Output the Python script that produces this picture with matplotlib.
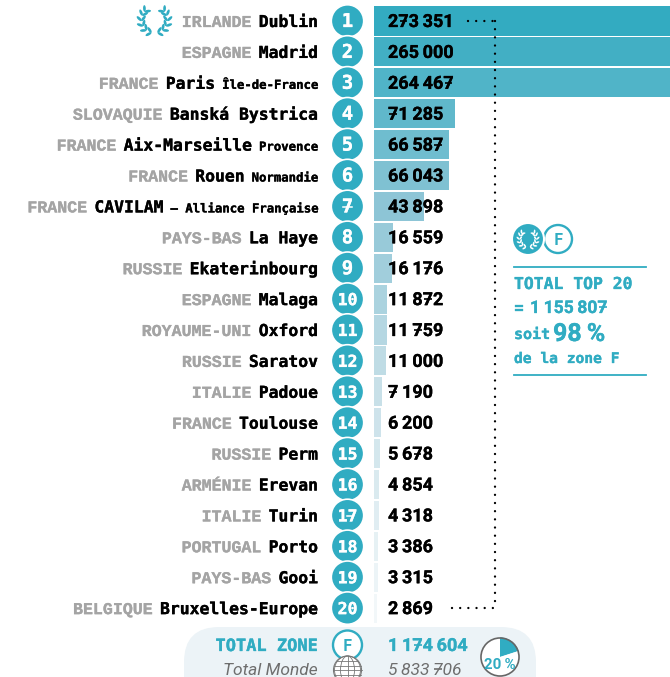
import numpy as np
import matplotlib
matplotlib.use("Agg")
import matplotlib.pyplot as plt
import matplotlib.patheffects as pe
from matplotlib.colors import LinearSegmentedColormap
from matplotlib.patches import Circle, Ellipse, FancyBboxPatch

countries = ["IRLANDE", "ESPAGNE", "FRANCE", "SLOVAQUIE", "FRANCE", "FRANCE", "FRANCE",
             "PAYS-BAS", "RUSSIE", "ESPAGNE", "ROYAUME-UNI", "RUSSIE", "ITALIE", "FRANCE",
             "RUSSIE", "ARMÉNIE", "ITALIE", "PORTUGAL", "PAYS-BAS", "BELGIQUE"]
cities = ["Dublin", "Madrid", "Paris", "Banská Bystrica", "Aix-Marseille", "Rouen", "CAVILAM",
          "La Haye", "Ekaterinbourg", "Malaga", "Oxford", "Saratov", "Padoue", "Toulouse",
          "Perm", "Erevan", "Turin", "Porto", "Gooi", "Bruxelles-Europe"]
regions = ["", "", "Île-de-France", "", "Provence", "Normandie", "– Alliance Française",
           "", "", "", "", "", "", "", "", "", "", "", "", ""]
values = [273351, 265000, 264467, 71285, 66587, 66043, 43898, 16559, 16176, 11872,
          11759, 11000, 7190, 6200, 5678, 4854, 4318, 3386, 3315, 2869]
total_zone = 1174604
total_monde = 5833706
total_top = 1155807
pie_share = [20, 80]

TEAL = "#30acc2"
GREY = "#a4a4a4"
MONO = "DejaVu Sans Mono"
NUM = ["Roboto", "DejaVu Sans"]
PX = 0.72

fig = plt.figure(figsize=(6.7, 6.77), dpi=100)
renderer = fig.canvas.get_renderer()

# bars get their own axes, row i sits at 21 + 30.9 * i pixels
ax_bar = fig.add_axes([374 / 670, 0, 296 / 670, 1])
ax_bar.set_xlim(0, 262000)
ax_bar.set_ylim((677 - 21) / 30.9, -21 / 30.9)
ax_bar.axis("off")
cmap = LinearSegmentedColormap.from_list(
    "bars", [(0, "#33abc1"), (0.32, "#8fc6d6"), (0.63, "#c8e0e8"), (1, "#f2f7f9")])
rows = np.arange(len(values))
ax_bar.barh(rows, values, height=0.94, color=cmap(rows / 19))

# everything else is placed in pixel coordinates
ax = fig.add_axes([0, 0, 1, 1], zorder=2)
ax.set_xlim(0, 670)
ax.set_ylim(677, 0)
ax.axis("off")
ax.patch.set_alpha(0)


def heavy(color, w=0.22):
    return [pe.withStroke(linewidth=w, foreground=color)]


def text_width(s, **kw):
    t = ax.text(0, 0, s, **kw)
    w = t.get_window_extent(renderer).width
    t.remove()
    return w


def fmt(v):
    return f"{v:,}".replace(",", "\u2009")


def number(x, y, v, size=18, color="black", weight="bold", style="normal"):
    s = fmt(v)
    kw = dict(fontsize=size * PX, family=NUM, fontweight=weight, fontstyle=style, color=color)
    t = ax.text(x, y, s, ha="left", va="baseline", **kw)
    if weight == "bold":
        t.set_path_effects(heavy(color))
    digit = text_width("0", **kw)
    # barred sevens
    for i, c in enumerate(s):
        if c == "7":
            right = x + text_width(s[:i + 1], **kw)
            ax.plot([right - digit * 0.85, right - digit * 0.1], [y - size * 0.33] * 2,
                    color=color, lw=1.2, solid_capstyle="butt")


def wreath(cx, cy, r, color, leaf):
    for side in (-1, 1):
        for a in np.radians([14, 38, 62, 86, 110, 130]):
            px = cx + side * r * np.sin(a)
            py = cy + r * np.cos(a)
            tangent = np.degrees(np.arctan2(-np.sin(a), side * np.cos(a)))
            for off in (-42, 42):
                d = np.radians(tangent + off)
                ax.add_patch(Ellipse((px + leaf * 0.5 * np.cos(d), py + leaf * 0.5 * np.sin(d)),
                                     leaf, leaf * 0.42, angle=tangent + off,
                                     color=color, lw=0))


def ring(cx, cy, r, label):
    ax.add_patch(Circle((cx, cy), r, fc="white", ec=TEAL, lw=1.7))
    ax.text(cx, cy + 6, label, ha="center", va="baseline", family=MONO,
            fontweight="bold", fontsize=16 * PX, color=TEAL)


for i in rows:
    yc = 21 + 30.9 * i
    base = yc + 6
    x = 318
    parts = []
    if regions[i]:
        parts.append((regions[i], dict(family=MONO, fontweight="bold", fontsize=12.3 * PX, color="black")))
    parts.append((cities[i], dict(family=MONO, fontweight="bold", fontsize=16.4 * PX, color="black")))
    parts.append((countries[i], dict(family="Liberation Mono", fontweight="bold", fontsize=16.6 * PX, color=GREY)))
    for s, kw in parts:
        t = ax.text(x, base, s, ha="right", va="baseline", **kw)
        t.set_path_effects(heavy(kw["color"]))
        x -= text_width(s, **kw) + 7

    ax.add_patch(Circle((347.5, yc), 16.2, fc=TEAL, ec="white", lw=1.2, zorder=3))
    label = str(i + 1)
    size = 19 if i < 9 else 16.5
    t = ax.text(347.5, base, label, ha="center", va="baseline", family=MONO, fontweight="bold",
                fontsize=size * PX, color="white", zorder=4)
    t.set_path_effects(heavy("white"))
    if "7" in label:
        ax.plot([346.5 if i > 9 else 343, 352], [yc + 0.5] * 2, color="white", lw=1.1, zorder=4)
    number(388, base, values[i])

dots = dict(color="black", lw=1.7, ls=(0, (0.01, 3.45)), dash_capstyle="round")
ax.plot([494.5, 494.5], [21, 608], **dots)
ax.plot([468, 494.5], [20.5, 20.5], **dots)
ax.plot([452, 494.5], [608, 608], **dots)

wreath(154.5, 20, 13, TEAL, 6.5)

# side panel
ring(558, 239, 14, "F")
ax.add_patch(Circle((528, 239), 16, fc=TEAL, ec="white", lw=1.5))
wreath(528, 239, 8.5, "white", 4)
ax.plot([514, 646], [266.5, 266.5], color=TEAL, lw=1.3)
ax.plot([514, 646], [375, 375], color=TEAL, lw=1.3)
panel = dict(family=MONO, fontweight="bold", color=TEAL, va="baseline", path_effects=heavy(TEAL))
ax.text(514, 289, "TOTAL TOP 20", fontsize=16.4 * PX, **panel)
ax.text(514, 313, "=", fontsize=16 * PX, **panel)
number(530, 313, total_top, size=17.5, color=TEAL)
ax.text(514, 339, "soit", fontsize=15 * PX, **panel)
ax.text(553, 341, "98\u2009%", fontsize=25 * PX, family=NUM, fontweight="bold", color=TEAL, va="baseline",
        path_effects=heavy(TEAL))
ax.text(514, 363, "de la zone F", fontsize=14.6 * PX, **panel)

# total band, runs off the bottom of the picture
ax.add_patch(FancyBboxPatch((184 + 35, 627 + 35), 352 - 70, 30, boxstyle="round,pad=35,rounding_size=35",
                            fc="#ecf3f7", ec="none", zorder=0))
ax.text(318, 651, "TOTAL ZONE", ha="right", va="baseline", family=MONO, fontweight="bold",
        fontsize=17 * PX, color=TEAL, path_effects=heavy(TEAL))
ax.text(318, 675, "Total Monde", ha="right", va="baseline", family=NUM, fontstyle="italic",
        fontsize=17.4 * PX, color="#6e6e6e")
ring(347.5, 645, 14.5, "F")
number(388, 651, total_zone, size=18, color=TEAL)
number(388, 675, total_monde, size=17.5, color="#6e6e6e", weight="normal", style="italic")

# little globe
gx, gy, gr = 347.5, 670, 14
ax.add_patch(Circle((gx, gy), gr, fc="white", ec="#777777", lw=0.8))
for w in (14, 26):
    ax.add_patch(Ellipse((gx, gy), w, 2 * gr, fc="none", ec="#777777", lw=0.6))
ax.plot([gx, gx], [gy - gr, gy + gr], color="#777777", lw=0.6)
for dy in (-9, -4.5, 0, 4.5):
    half = np.sqrt(gr ** 2 - dy ** 2)
    ax.plot([gx - half, gx + half], [gy + dy, gy + dy], color="#777777", lw=0.6)

# share pie
ax_pie = fig.add_axes([480 / 670, 0, 40 / 670, 40 / 677], zorder=3)
ax_pie.pie(pie_share, startangle=90, counterclock=False, colors=[TEAL, "white"], radius=1,
           wedgeprops=dict(lw=0))
ax_pie.add_patch(Circle((0, 0), 0.97, fc="none", ec="#666666", lw=1.2))
ax_pie.set_xlim(-1.02, 1.02)
ax_pie.set_ylim(-1.02, 1.02)
ax_pie.text(0, -0.62, "20\u2009%", ha="center", va="baseline", family=NUM, fontweight="bold",
            fontsize=15 * PX, color=TEAL)

fig.savefig("out.png", dpi=100)
